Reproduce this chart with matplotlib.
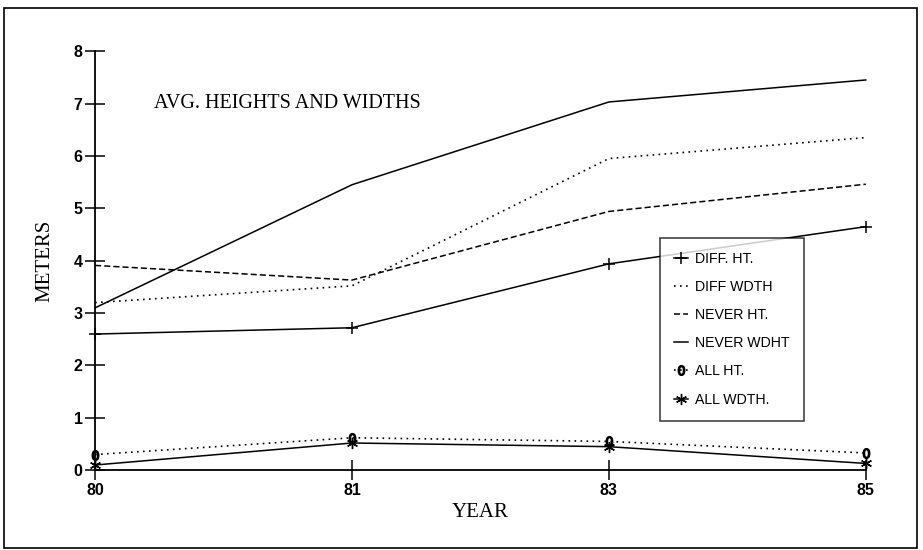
import numpy as np
import matplotlib.pyplot as plt
from matplotlib.patches import Rectangle

years = ["80", "81", "83", "85"]
diff_ht = [2.60, 2.72, 3.94, 4.65]
diff_wdth = [3.20, 3.52, 5.95, 6.35]
never_ht = [3.91, 3.63, 4.94, 5.46]
never_wdht = [3.10, 5.45, 7.03, 7.45]
all_ht = [0.30, 0.62, 0.55, 0.33]
all_wdth = [0.10, 0.52, 0.45, 0.13]

serif = ["Liberation Serif", "DejaVu Serif"]
sans = ["Liberation Sans", "DejaVu Sans"]

fig = plt.figure(figsize=(9.23, 5.5), dpi=100)
ax = fig.add_axes([0.103, 0.145, 0.835, 0.762])
x = np.arange(len(years))

lw = 1.1
dots = (0, (1, 2.6))
ax.plot(x, diff_ht, color="black", lw=lw, marker="+", markersize=9, mew=1.1,
        label="DIFF. HT.", clip_on=False)
ax.plot(x, diff_wdth, color="black", lw=1.2, linestyle=dots,
        label="DIFF WDTH", clip_on=False)
ax.plot(x, never_ht, color="black", lw=lw, linestyle=(0, (4, 2)),
        label="NEVER HT.", clip_on=False)
ax.plot(x, never_wdht, color="black", lw=lw, label="NEVER WDHT", clip_on=False)
ax.plot(x, all_ht, color="black", lw=1.2, linestyle=dots, marker="$0$",
        markersize=7, label="ALL HT.", clip_on=False)
ax.plot(x, all_wdth, color="black", lw=lw, marker=(6, 2, 0), markersize=8, mew=1.0,
        label="ALL WDTH.", clip_on=False)

ax.set_xlim(0, len(years) - 1)
ax.set_ylim(0, 8)
ax.set_xticks(x)
ax.set_xticklabels(years)
ax.set_yticks(range(0, 9))
ax.spines[["top", "right"]].set_visible(False)
for s in ["left", "bottom"]:
    ax.spines[s].set_linewidth(1.3)
ax.tick_params(direction="inout", length=14, width=1.1, labelsize=11.5, pad=2)
for lab in ax.get_xticklabels() + ax.get_yticklabels():
    lab.set_family(sans)
    lab.set_fontweight("bold")

ax.set_xlabel("YEAR", family=serif, fontsize=15, labelpad=4)
ax.set_ylabel("METERS", family=serif, fontsize=15, labelpad=14)
ax.text(0.23, 7.0, "AVG. HEIGHTS AND WIDTHS", family=serif, fontsize=14.5,
        va="center", ha="left")

leg = ax.legend(loc="upper left", bbox_to_anchor=(0.724, 0.572), frameon=True,
                fancybox=False, edgecolor="black", handlelength=1.0,
                handletextpad=0.45, labelspacing=1.0, borderpad=1.0,
                prop={"family": sans, "size": 10.2})
leg.get_frame().set_linewidth(1.1)

fig.patches.append(Rectangle((0.004, 0.004), 0.99, 0.982, transform=fig.transFigure,
                             fill=False, edgecolor="black", lw=1.2))

fig.savefig("out.png", dpi=100)
